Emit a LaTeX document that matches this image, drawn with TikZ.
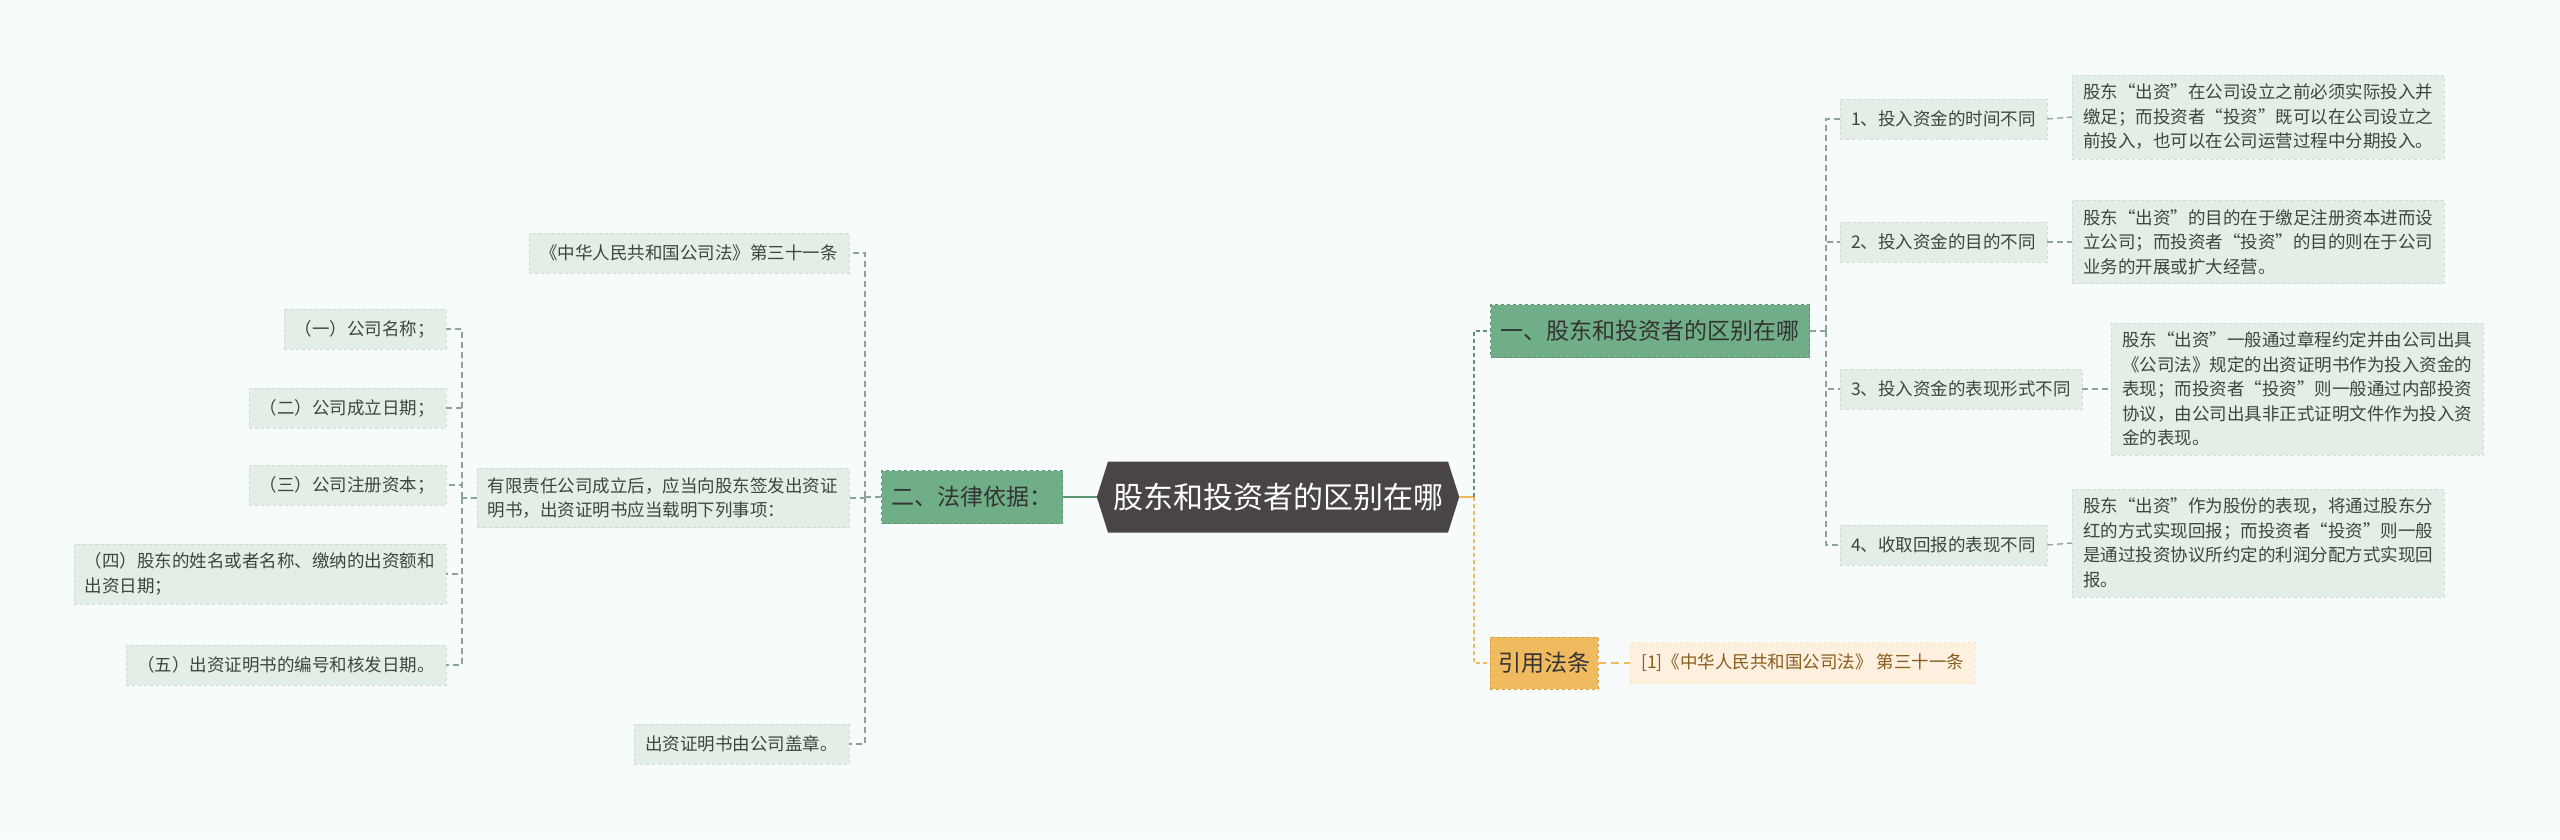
\documentclass[tikz,border=0pt]{standalone}
\usepackage{fontspec}
\setmainfont{Noto Sans CJK SC}
\usepackage{tikz}
\usetikzlibrary{shapes.symbols, positioning}

\definecolor{bgc}{HTML}{F7FBFB}
\definecolor{hexc}{HTML}{4A4545}
\definecolor{grnc}{HTML}{6FAE86}
\definecolor{grnd}{HTML}{5B9670}
\definecolor{leafc}{HTML}{E3EEE6}
\definecolor{leafd}{HTML}{CCDCD1}
\definecolor{txtc}{HTML}{3A463E}
\definecolor{linec}{HTML}{8AA596}
\definecolor{orgc}{HTML}{F0BA5F}
\definecolor{orgd}{HTML}{D9A048}
\definecolor{citec}{HTML}{FDF0DF}
\definecolor{citet}{HTML}{8A5C1C}

\begin{document}
\begin{tikzpicture}[x=1pt, y=-1pt,
  hexnode/.style={signal, signal to=east and west, signal pointer angle=145,
    fill=hexc, text=white, font=\fontsize{30}{36}\selectfont,
    minimum height=71pt, inner xsep=5pt},
  topic/.style={fill=grnc, draw=grnd, dashed, text=black!80, font=\fontsize{23}{28}\selectfont,
    minimum height=53pt, inner xsep=10pt},
  citebox/.style={fill=orgc, draw=orgd, dashed, text=black!80, font=\fontsize{23}{28}\selectfont,
    minimum height=52pt, inner xsep=8pt},
  leaf/.style={fill=leafc, draw=leafd, dashed, text=txtc, font=\fontsize{17.5}{24.5}\selectfont,
    align=left, inner xsep=11pt, inner ysep=9pt},
  item/.style={leaf, minimum height=40pt},
  citeleaf/.style={fill=citec, draw=citec!80!orgc, dashed, text=citet,
    font=\fontsize{17.5}{24.5}\selectfont, minimum height=41pt, inner xsep=11pt},
  link/.style={draw=linec, line width=1.3pt, dash pattern=on 6pt off 4pt},
  trunk/.style={line width=2.5pt, dash pattern=on 4pt off 3pt}]

  \fill[bgc] (0,0) rectangle (2560,839);
  \useasboundingbox (0,0) rectangle (2560,839);

  % centre
  \node[hexnode] (root) at (1278,497) {股东和投资者的区别在哪};
  \node[topic] (two) at (972,497) {二、法律依据：};
  \node[topic] (one) at (1650,331) {一、股东和投资者的区别在哪};
  \node[citebox] (cite) at (1544,663) {引用法条};
  \node[citeleaf, anchor=west] (ref) at (1630,663) {[1]《中华人民共和国公司法》 第三十一条};

  \coordinate (cj) at (1474,497);
  \draw[orgc, line width=2pt] (root.east) -- (cj);
  \draw[grnd, trunk] (cj) |- (one.west);
  \draw[orgc, trunk] (cj) |- (cite.west);
  \draw[grnd, line width=2pt] (root.west) -- (two.east);
  \draw[orgc, line width=1.5pt, dash pattern=on 8pt off 5pt] (cite.east) -- (ref.west);

  % right branch
  \node[item, anchor=west] (r1) at (1840,119) {1、投入资金的时间不同};
  \node[item, anchor=west] (r2) at (1840,242) {2、投入资金的目的不同};
  \node[item, anchor=west] (r3) at (1840,389) {3、投入资金的表现形式不同};
  \node[item, anchor=west] (r4) at (1840,545) {4、收取回报的表现不同};

  \node[leaf, anchor=west] (d1) at (2072,117) {股东“出资”在公司设立之前必须实际投入并\\缴足；而投资者“投资”既可以在公司设立之\\前投入，也可以在公司运营过程中分期投入。};
  \node[leaf, anchor=west] (d2) at (2072,242) {股东“出资”的目的在于缴足注册资本进而设\\立公司；而投资者“投资”的目的则在于公司\\业务的开展或扩大经营。};
  \node[leaf, anchor=west] (d3) at (2111,389) {股东“出资”一般通过章程约定并由公司出具\\《公司法》规定的出资证明书作为投入资金的\\表现；而投资者“投资”则一般通过内部投资\\协议，由公司出具非正式证明文件作为投入资\\金的表现。};
  \node[leaf, anchor=west] (d4) at (2072,543) {股东“出资”作为股份的表现，将通过股东分\\红的方式实现回报；而投资者“投资”则一般\\是通过投资协议所约定的利润分配方式实现回\\报。};

  \coordinate (rj) at (1826,331);
  \draw[link] (one.east) -- (rj);
  \foreach \i in {1,...,4} {
    \draw[link] (rj) |- (r\i.west);
    \draw[link] (r\i.east) -- (d\i.west);
  }

  % left branch
  \node[item, anchor=east] (m1) at (849,253) {《中华人民共和国公司法》第三十一条};
  \node[leaf, anchor=east] (m2) at (849,498) {有限责任公司成立后，应当向股东签发出资证\\明书，出资证明书应当载明下列事项：};
  \node[item, anchor=east] (m3) at (849,744) {出资证明书由公司盖章。};

  \coordinate (lj) at (865,497);
  \draw[link] (two.west) -- (lj);
  \foreach \i in {1,2,3}
    \draw[link] (lj) |- (m\i.east);

  \node[item, anchor=east] (a1) at (446,329) {（一）公司名称；};
  \node[item, anchor=east] (a2) at (446,408) {（二）公司成立日期；};
  \node[item, anchor=east] (a3) at (446,485) {（三）公司注册资本；};
  \node[leaf, anchor=east] (a4) at (446,574) {（四）股东的姓名或者名称、缴纳的出资额和\\出资日期；};
  \node[item, anchor=east] (a5) at (446,665) {（五）出资证明书的编号和核发日期。};

  \coordinate (llj) at (462,498);
  \draw[link] (m2.west) -- (llj);
  \foreach \i in {1,...,5}
    \draw[link] (llj) |- (a\i.east);
\end{tikzpicture}
\end{document}
